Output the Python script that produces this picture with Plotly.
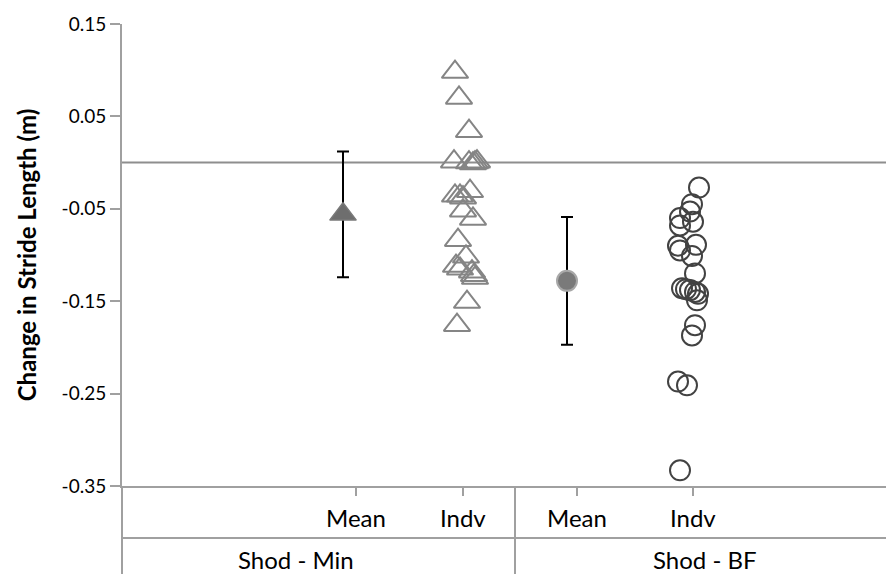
import plotly.graph_objects as go

# ---- data ----
tick_pos = [2.34, 3.41, 4.55, 5.71]
tick_text = ["Mean", "Indv", "Mean", "Indv"]
group_labels = ["Shod - Min", "Shod - BF"]
group_pos = [1.74, 5.83]
group_divider = 3.93

min_mean_x = [2.21]
min_mean = [-0.056]
min_err = [0.068]

min_indv_x = [3.33, 3.37, 3.47, 3.32, 3.47, 3.51, 3.53, 3.55,
              3.33, 3.38, 3.41, 3.48, 3.41, 3.51, 3.36,
              3.44, 3.34, 3.38, 3.50, 3.52, 3.53, 3.45, 3.35]
min_indv = [0.098, 0.070, 0.034, 0.001, 0.000, -0.001, 0.000, 0.001,
            -0.036, -0.036, -0.038, -0.031, -0.052, -0.061, -0.084,
            -0.102, -0.112, -0.115, -0.118, -0.122, -0.125, -0.151, -0.176]

bf_mean_x = [4.45]
bf_mean = [-0.128]
bf_err = [0.069]

bf_indv_x = [5.77, 5.70, 5.68, 5.58, 5.71, 5.58, 5.56, 5.74, 5.58, 5.70, 5.73,
             5.60, 5.64, 5.68, 5.73, 5.76, 5.75, 5.73, 5.70, 5.56, 5.65, 5.58]
bf_indv = [-0.027, -0.045, -0.053, -0.060, -0.064, -0.068, -0.090, -0.089, -0.095,
           -0.101, -0.120, -0.136, -0.137, -0.138, -0.140, -0.142, -0.149,
           -0.176, -0.187, -0.237, -0.241, -0.333]

y_ticks = [0.15, 0.05, -0.05, -0.15, -0.25, -0.35]
y_title = "Change in Stride Length (m)"

FONT = "Lato"
AX = "#a0a0a0"
PLOT_H = 462

fig = go.Figure()

fig.add_trace(go.Scatter(
    x=min_indv_x, y=min_indv, mode="markers",
    marker=dict(symbol="triangle-up-open", size=23, color="#858585",
                line=dict(width=2, color="#858585")),
    showlegend=False, hoverinfo="y"))

fig.add_trace(go.Scatter(
    x=bf_indv_x, y=bf_indv, mode="markers",
    marker=dict(symbol="circle-open", size=20, color="#424242",
                line=dict(width=2, color="#424242")),
    showlegend=False, hoverinfo="y"))

fig.add_trace(go.Scatter(
    x=min_mean_x, y=min_mean, mode="markers",
    error_y=dict(type="data", array=min_err, color="black", thickness=2, width=6),
    marker=dict(symbol="triangle-up", size=23, color="#6e6e6e",
                line=dict(width=1.5, color="#7a7a7a")),
    showlegend=False, hoverinfo="y"))

fig.add_trace(go.Scatter(
    x=bf_mean_x, y=bf_mean, mode="markers",
    error_y=dict(type="data", array=bf_err, color="black", thickness=2, width=6),
    marker=dict(symbol="circle", size=20, color="#7a7a7a",
                line=dict(width=2, color="#a8a8a8")),
    showlegend=False, hoverinfo="y"))

# zero reference line
fig.add_shape(type="line", xref="paper", yref="y", x0=0, x1=1, y0=0, y1=0,
              line=dict(color="#8e8e8e", width=2), layer="below")

# category table lines below the plot
bottom = -88 / PLOT_H
fig.add_shape(type="line", xref="paper", yref="paper", x0=0, x1=1,
              y0=-52 / PLOT_H, y1=-52 / PLOT_H, line=dict(color=AX, width=2))
fig.add_shape(type="line", xref="x", yref="paper", x0=group_divider, x1=group_divider,
              y0=0, y1=bottom, line=dict(color=AX, width=2))
fig.add_shape(type="line", xref="paper", yref="paper", x0=0, x1=0,
              y0=bottom, y1=0, line=dict(color=AX, width=2))

for t, p in zip(tick_text, tick_pos):
    fig.add_annotation(x=p, y=-31 / PLOT_H, xref="x", yref="paper", text=t,
                       showarrow=False, font=dict(family=FONT, size=24, color="black"),
                       yanchor="middle")
for t, p in zip(group_labels, group_pos):
    fig.add_annotation(x=p, y=-73 / PLOT_H, xref="x", yref="paper", text=t,
                       showarrow=False, font=dict(family=FONT, size=24, color="black"),
                       yanchor="middle")

fig.update_layout(
    width=886, height=566,
    margin=dict(l=114, r=0, t=16, b=88),
    plot_bgcolor="white", paper_bgcolor="white",
    font=dict(family=FONT, size=19, color="black"),
    xaxis=dict(range=[0, 7.72], showgrid=False, zeroline=False,
               showline=True, linecolor=AX, linewidth=2,
               tickvals=tick_pos, ticktext=["", "", "", ""],
               ticks="outside", ticklen=8, tickcolor=AX, tickwidth=1.5),
    yaxis=dict(range=[-0.35, 0.15], showgrid=False, zeroline=False,
               showline=True, linecolor=AX, linewidth=2,
               tickvals=y_ticks, ticktext=[f"{v:.2f}" for v in y_ticks],
               ticks="outside", ticklen=10, tickcolor=AX, tickwidth=1.5,
               tickfont=dict(family=FONT, size=19),
               title=dict(text="<b>" + y_title + "</b>", standoff=18,
                          font=dict(family=FONT, size=24))),
)

fig.write_html("out.html")
